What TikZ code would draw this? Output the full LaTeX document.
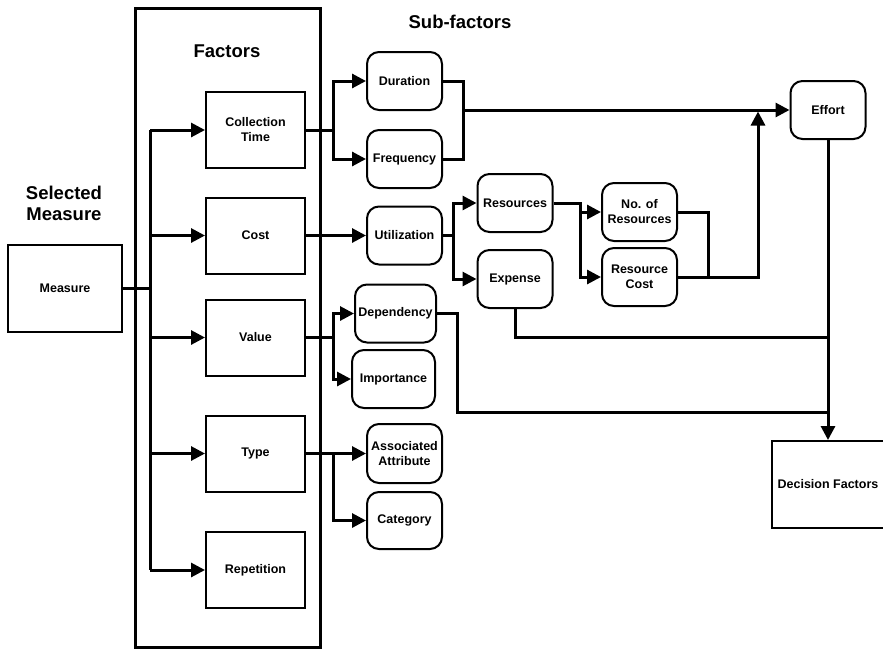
\documentclass[tikz,border=0pt]{standalone}
\usepackage{fontspec}
\setmainfont{Liberation Sans}
\usetikzlibrary{arrows.meta, shapes, positioning}

\tikzset{
  factor/.style={draw, line width=2pt, minimum width=99pt, minimum height=76pt, align=center},
  subfactor/.style={draw, line width=2pt, rounded corners=12pt, minimum width=75pt, minimum height=58pt, align=center, inner sep=2pt},
  plainbox/.style={draw, line width=2pt, minimum width=112pt, minimum height=87pt},
  heading/.style={font=\fontsize{18.5}{21.5}\selectfont\bfseries, align=center},
  link/.style={line width=3pt},
  arrow/.style={link, -{Triangle[length=14pt,width=14pt]}},
}

\begin{document}
\begin{tikzpicture}[x=1pt, y=-1pt, font=\fontsize{12.5}{15}\selectfont\bfseries]
    \useasboundingbox (0,0) rectangle (883,649);
    % Headings
    \node[heading] (seltitle) at (64,203.5) {Selected\\Measure};
    \node[heading] (factorstitle) at (227,51) {Factors};
    \node[heading] (subtitle) at (460,22) {Sub-factors};
    % Factors frame
    \draw[line width=3pt] (135,8) rectangle (320,647);
    % Selected measure
    \node[plainbox, minimum width=114pt] (measure) at (65,288) {Measure};
    % Factors
    \node[factor] (ctime) at (255.5,130) {Collection\\Time};
    \node[factor] (cost) at (255.5,235.5) {Cost};
    \node[factor] (value) at (255.5,337.5) {Value};
    \node[factor] (type) at (255.5,453.5) {Type};
    \node[factor] (repetition) at (255.5,570) {Repetition};
    % Sub-factors
    \node[subfactor] (duration) at (404.5,81) {Duration};
    \node[subfactor] (frequency) at (404.5,159) {Frequency};
    \node[subfactor] (utilization) at (404.5,235.5) {Utilization};
    \node[subfactor, minimum width=81pt] (dependency) at (395.5,313.5) {Dependency};
    \node[subfactor, minimum width=83pt] (importance) at (393.5,379) {Importance};
    \node[subfactor, minimum height=59pt] (associated) at (404.5,453.5) {Associated\\Attribute};
    \node[subfactor, minimum height=57pt] (category) at (404.5,520.5) {Category};
    \node[subfactor] (resources) at (515,203) {Resources};
    \node[subfactor] (expense) at (515,279) {Expense};
    \node[subfactor] (noresources) at (639.5,212) {No. of\\Resources};
    \node[subfactor] (rescost) at (639.5,277) {Resource\\Cost};
    % Outcomes
    \node[subfactor] (effort) at (828,110) {Effort};
    \node[plainbox] (decision) at (828,484.5) {Decision Factors};

    % Buses
    \coordinate (mbus) at (150,288);
    \coordinate (fbus) at (333,0);
    \coordinate (dfbus) at (463,110);
    \coordinate (ubus) at (453,0);
    \coordinate (rbus) at (580,0);
    \coordinate (nbus) at (708,0);
    \coordinate (effortup) at (758,111.5);
    \coordinate (ejoin) at (828,337);
    \coordinate (dbend) at (457,412);
    \coordinate (djoin) at (828,412);

    % Measure to factors
    \draw[link] (measure.east) -- (mbus);
    \draw[link] (mbus |- ctime.west) -- (mbus |- repetition.west);
    \foreach \f in {ctime,cost,value,type,repetition}
        \draw[arrow] (mbus |- \f.west) -- (\f.west);
    % Factors to sub-factors
    \draw[arrow] (ctime.east) -- (fbus |- ctime.east) |- (duration.west);
    \draw[arrow] (fbus |- ctime.east) |- (frequency.west);
    \draw[arrow] (cost.east) -- (utilization.west);
    \draw[arrow] (value.east) -- (fbus |- value.east) |- (dependency.west);
    \draw[arrow] (fbus |- value.east) |- (importance.west);
    \draw[arrow] (type.east) -- (associated.west);
    \draw[arrow] (fbus |- type.east) |- (category.west);
    % Cost breakdown
    \draw[arrow] (utilization.east) -- (ubus |- utilization.east) |- (resources.west);
    \draw[arrow] (ubus |- utilization.east) |- (expense.west);
    \draw[arrow] (resources.east) -- (rbus |- resources.east) |- (rescost.west);
    \draw[arrow] (rbus |- noresources.west) -- (noresources.west);
    \draw[link] (noresources.east) -| (nbus |- rescost.east);
    % Into effort
    \draw[link] (duration.east) -| (dfbus |- frequency.east) -- (frequency.east);
    \draw[arrow] (dfbus) -- (effort.west);
    \draw[arrow] (rescost.east) -| (effortup);
    % Into decision factors
    \draw[link] (expense.south) |- (ejoin);
    \draw[link] (dependency.east) -| (dbend) -- (djoin);
    \draw[arrow] (effort.south) -- (decision.north);
\end{tikzpicture}
\end{document}
